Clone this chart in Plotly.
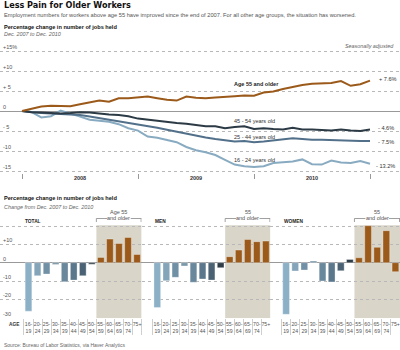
import plotly.graph_objects as go

# ---------------- data ----------------
months = list(range(37))  # Dec 2007 .. Dec 2010
age55_older = [0, 0.6, 1.1, 1.3, 1.3, 1.2, 1.7, 2.2, 2.6, 2.3, 3.2, 3.2, 3.4, 3.6, 3.2, 2.8,
               2.6, 3.6, 3.3, 3.2, 3.4, 3.5, 3.7, 3.9, 3.8, 4.6, 4.9, 5.5, 6.0, 6.5, 6.8,
               6.9, 7.0, 7.5, 6.3, 6.7, 7.6]
age45_54 = [0, -0.3, -0.4, -0.5, -0.6, -0.5, -0.3, -0.4, -0.7, -0.9, -1.0, -1.3, -1.9, -2.2,
            -2.5, -2.8, -3.0, -3.2, -3.5, -3.8, -3.8, -4.3, -4.0, -3.8, -4.5, -4.3, -4.5,
            -4.6, -4.2, -4.6, -4.6, -4.7, -4.9, -4.6, -4.9, -5.0, -4.6]
age25_44 = [0, -0.3, -0.5, -0.6, -0.7, -0.8, -1.0, -1.4, -1.8, -2.2, -2.6, -2.9, -3.3, -3.7,
            -4.2, -4.7, -5.2, -5.7, -6.2, -6.6, -7.0, -7.3, -7.6, -7.5, -7.8, -7.6, -7.3,
            -7.0, -6.8, -7.0, -7.2, -7.2, -7.3, -7.4, -7.5, -7.5, -7.5]
age16_24 = [0, -0.3, -1.6, -1.3, 0.1, -0.6, -1.4, -2.2, -2.5, -2.7, -3.3, -4.3, -4.9, -6.4,
            -6.7, -7.2, -7.8, -9.0, -9.8, -10.3, -11.0, -12.2, -13.4, -13.8, -14.0, -13.8,
            -13.0, -12.8, -12.6, -12.1, -13.3, -13.4, -12.4, -12.9, -13.0, -12.5, -13.2]
year_ticks = [6, 18, 30]
year_labels = ["2008", "2009", "2010"]
year_bounds = [0, 12, 24, 36]
line_yticks = [-15, -10, -5, 0, 5, 10, 15]
line_ylabels = ["-15", "-10", "- 5", "0", "+ 5", "+10", "+15%"]

age_groups = ["16-19", "20-24", "25-29", "30-34", "35-39", "40-44", "45-49", "50-54",
              "55-59", "60-64", "65-69", "70-74", "75+"]
age_tick_labels = ["16-<br>19", "20-<br>24", "25-<br>29", "30-<br>34", "35-<br>39",
                   "40-<br>44", "45-<br>49", "50-<br>54", "55-<br>59", "60-<br>64",
                   "65-<br>69", "70-<br>74", "75+<br> "]
total = [-26.5, -7.1, -6.2, -1.0, -10.4, -9.5, -7.1, -0.8, 2.9, 12.9, 10.5, 13.8, 4.5]
men = [-24.5, -9.8, -8.0, -1.8, -10.7, -8.9, -9.5, -2.7, 3.3, 6.9, 12.7, 11.5, 11.8]
women = [-28.2, -4.5, -4.0, 0.9, -10.0, -10.5, -4.4, 1.8, 2.7, 20.2, 8.4, 17.5, -4.9]
bar_yticks = [-30, -20, -10, 0, 10, 20]
bar_ylabels = ["-30", "-20", "-10", "0", "+10", "+20%"]

# ---------------- styles ----------------
W, H = 400, 350
FONT = "Liberation Sans, Arial, sans-serif"
C55 = "#9b5a1a"
line_colors = {"55": C55, "45": "#2b3a44", "25": "#52708a", "16": "#88abc1"}
bar_colors = ["#8cb0c6", "#84a4b9", "#7090a6", "#7c98ab", "#6a889c", "#5a778b", "#4a6273",
              "#2e3d47"] + [C55] * 5
SHADE = "#d9d6c9"


def px_x(x):
    return x / W


def px_y(y):
    return 1 - y / H


fig = go.Figure()

# ---------------- line chart ----------------
for key, vals in [("16", age16_24), ("25", age25_44), ("45", age45_54), ("55", age55_older)]:
    fig.add_trace(go.Scatter(x=months, y=vals, mode="lines",
                             line=dict(color=line_colors[key], width=2),
                             xaxis="x", yaxis="y", showlegend=False, hoverinfo="skip"))

month_px = (370 - 22) / 36.0
# 4 px per unit, 0 at y=111 px
fig.update_layout(
    xaxis=dict(domain=[0, 1], range=[-22 / month_px, 36 + 30 / month_px],
               tickvals=year_ticks, ticktext=year_labels, ticks="", showgrid=False,
               zeroline=False, showline=False, anchor="y",
               tickfont=dict(size=5.5, color="#333", family=FONT, weight="bold"),
               ticklabelstandoff=0,
               minor=dict(tickvals=year_bounds, ticks="outside", ticklen=5,
                          tickcolor="#999", tickwidth=1, showgrid=False)),
    yaxis=dict(domain=[px_y(111 + 15.5 * 4), px_y(111 - 17.5 * 4)], range=[-15.5, 17.5],
               anchor="x",
               tickvals=line_yticks, ticktext=line_ylabels,
               ticklabelposition="inside top", ticks="",
               tickfont=dict(size=5.5, color="#555", family=FONT),
               showgrid=True, gridcolor="#b8b8b8", griddash="dot", gridwidth=1,
               zeroline=True, zerolinecolor="#999", zerolinewidth=1, showline=False),
)

# ---------------- bar panels ----------------
bar_px = 9.05
panels = [
    ("x2", "y2", total, 0, 141.6, 28.5),
    ("x3", "y3", men, 141.6, 270.4, 157.3),
    ("x4", "y4", women, 270.4, 400, 286.0),
]
ZERO_B, UNIT_B = 262.7, 1.83
BTOP, BBOT = 23.0, -30.3
bar_dom = [px_y(ZERO_B - BBOT * UNIT_B), px_y(ZERO_B - BTOP * UNIT_B)]
for i, (xa, ya, vals, d0, d1, c0) in enumerate(panels):
    fig.add_trace(go.Bar(x=age_groups, y=vals, xaxis=xa, yaxis=ya,
                         marker=dict(color=bar_colors,
                                     line=dict(color="rgba(255,255,255,0.55)", width=0.6)),
                         width=0.74, showlegend=False, hoverinfo="skip"))
    n = xa[1:]
    first = i == 0
    fig.layout["xaxis" + n] = dict(
        domain=[px_x(d0), px_x(d1)], range=[-(c0 - d0) / bar_px, 12.5], anchor=ya,
        type="category", tickvals=age_groups, ticktext=age_tick_labels, tickangle=0,
        ticks="outside", tickson="boundaries", ticklen=16, tickcolor="#cfcfcf",
        ticklabelstandoff=2,
        tickfont=dict(size=5.2, color="#555", family=FONT),
        showgrid=False, zeroline=False, showline=False)
    fig.layout["yaxis" + n] = dict(
        domain=bar_dom, range=[BBOT, BTOP], anchor=xa,
        tickvals=bar_yticks, ticktext=bar_ylabels,
        showticklabels=first, ticklabelposition="inside top", ticks="",
        tickfont=dict(size=5.5, color="#555", family=FONT),
        showgrid=True, gridcolor="#b8b8b8", griddash="dot", gridwidth=1,
        zeroline=True, zerolinecolor="#999", zerolinewidth=1, showline=False)
    # shaded 55+ area
    fig.add_shape(type="rect", xref=xa, yref=ya, x0=7.5, x1=12.5, y0=BBOT, y1=20.5,
                  fillcolor=SHADE, line=dict(width=0), layer="below")
    # bracket
    for xx0, xx1 in [(7.5, 8.7), (11.3, 12.5)]:
        fig.add_shape(type="line", xref=xa, yref="paper", x0=xx0, x1=xx1,
                      y0=px_y(218.5), y1=px_y(218.5), line=dict(color="#888", width=0.8))
    for xx in [7.5, 12.45]:
        fig.add_shape(type="line", xref=xa, yref="paper", x0=xx, x1=xx,
                      y0=px_y(218.5), y1=px_y(222), line=dict(color="#888", width=0.8))
    top = "Age 55" if first else "55"
    fig.add_annotation(x=10, xref=xa, y=px_y(212.3), yref="paper", text=top,
                       showarrow=False, xanchor="center", yanchor="middle",
                       font=dict(size=5.5, color="#555", family=FONT))
    fig.add_annotation(x=10, xref=xa, y=px_y(217.7), yref="paper", text="and older",
                       showarrow=False, xanchor="center", yanchor="middle",
                       font=dict(size=5.5, color="#555", family=FONT))


def txt(x, y, text, size=5.5, color="#333", xanchor="left", family=FONT):
    fig.add_annotation(x=px_x(x), y=px_y(y), xref="paper", yref="paper", text=text,
                       showarrow=False, xanchor=xanchor, yanchor="middle",
                       font=dict(size=size, color=color, family=family))


# headings
txt(2, 5.5, "<b>Less Pain for Older Workers</b>", 9, "#111",
    family="Liberation Sans Narrow, DejaVu Sans Condensed, Arial, sans-serif")
txt(2, 15, "Employment numbers for workers above age 55 have improved since the end of 2007. "
    "For all other age groups, the situation has worsened.", 5.7, "#555")
txt(2, 27.5, "<b>Percentage change in number of jobs held</b>", 5.6, "#111")
txt(2, 34, "<i>Dec. 2007 to Dec. 2010</i>", 5.4, "#666")
txt(396, 46, "<i>Seasonally adjusted</i>", 5.4, "#666", xanchor="right")

# line labels
txt(232, 84, "<b>Age 55 and older</b>", 5.5, "#222")
txt(377, 79.5, "+ 7.6%", 5.6, "#333")
txt(232, 120.7, "45 - 54 years old", 5.5, "#333")
txt(376, 127.7, "- 4.6%", 5.6, "#333")
txt(232, 137.3, "25 - 44 years old", 5.5, "#333")
txt(376, 142, "- 7.5%", 5.6, "#333")
txt(232, 160, "16 - 24 years old", 5.5, "#333")
txt(374, 166, "- 13.2%", 5.6, "#333")

# bar section headings
txt(2, 198.3, "<b>Percentage change in number of jobs held</b>", 5.6, "#111")
txt(2, 206.5, "<i>Change from Dec. 2007 to Dec. 2010</i>", 5.4, "#666")
txt(23, 221.7, "<b>TOTAL</b>", 4.8, "#222")
txt(152.5, 221.7, "<b>MEN</b>", 4.8, "#222")
txt(282, 221.7, "<b>WOMEN</b>", 4.8, "#222")
txt(7, 324, "<b>AGE</b>", 4.8, "#333")
txt(2, 345, "Source: Bureau of Labor Statistics, via Haver Analytics", 5, "#666")

fig.update_layout(width=W, height=H, margin=dict(l=0, r=0, t=0, b=0),
                  paper_bgcolor="white", plot_bgcolor="white", bargap=0.26,
                  font=dict(family=FONT, size=6, color="#333"))

fig.write_html("out.html", config={"displayModeBar": False})
